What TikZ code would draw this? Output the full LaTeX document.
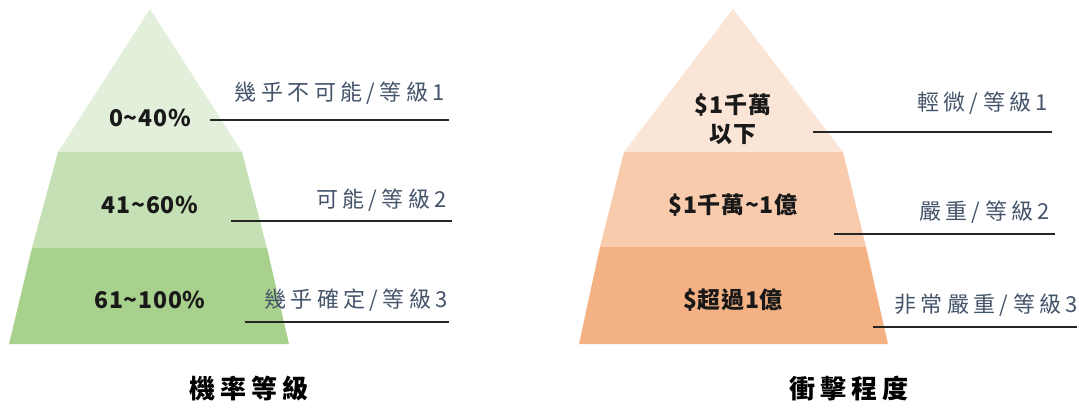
\documentclass[tikz,border=0pt]{standalone}
\usepackage{fontspec}
\usepackage{xcolor}
\newfontfamily\cjk{Noto Sans CJK TC}
\newfontfamily\cjkwide[LetterSpace=20]{Noto Sans CJK TC}
\newfontfamily\cjkval[LetterSpace=3]{Noto Sans CJK TC}
\definecolor{gtop}{HTML}{E2EFDA}
\definecolor{gmid}{HTML}{C5E0B4}
\definecolor{gbot}{HTML}{A9D18E}
\definecolor{otop}{HTML}{FBE5D6}
\definecolor{omid}{HTML}{F8CBAD}
\definecolor{obot}{HTML}{F4B183}
\definecolor{lvlblue}{HTML}{44546A}
\usetikzlibrary{positioning}

\begin{document}
\begin{tikzpicture}[x=1pt,y=-1pt,every node/.style={outer sep=0pt},
		val/.style={font=\cjkval\fontsize{23}{29}\selectfont\bfseries,text=black!90,align=center,inner sep=0pt},
		lvl/.style={font=\cjkwide\fontsize{22}{26}\selectfont,text=lvlblue,anchor=east,inner sep=0pt},
		title/.style={font=\cjkwide\fontsize{26}{30}\selectfont\bfseries,text=black,inner sep=0pt},
		rule/.style={line width=1.3pt,black!85},
		]
		\useasboundingbox (0,0) rectangle (1079,407);

		% probability pyramid
		\fill[gtop] (150,9) -- (242,152) -- (58,152) -- cycle;
		\fill[gmid] (58,152) -- (242,152) -- (267,248) -- (32,248) -- cycle;
		\fill[gbot] (32,248) -- (267,248) -- (289,344) -- (9,344) -- cycle;

		\node[val] (p1) at (150,118) {0\textasciitilde40\%};
		\node[val] (p2) at (150,205) {41\textasciitilde60\%};
		\node[val] (p3) at (150,300) {61\textasciitilde100\%};

		\node[lvl] (pl1) at (445,93) {幾乎不可能/等級1};
		\node[lvl] (pl2) at (447,200) {可能/等級2};
		\node[lvl] (pl3) at (448,300) {幾乎確定/等級3};

		\coordinate (pa1) at (210,120); \coordinate (pb1) at (449,120);
		\coordinate (pa2) at (231,221); \coordinate (pb2) at (452,221);
		\coordinate (pa3) at (245,322); \coordinate (pb3) at (449,322);
		\foreach \i in {1,2,3}
			\draw[rule] (pa\i) -- (pb\i);

		\node[title] (pcap) at (249,389) {機率等級};

		% impact pyramid
		\fill[otop] (733,9) -- (843,152) -- (624,152) -- cycle;
		\fill[omid] (624,152) -- (843,152) -- (866,247) -- (600,247) -- cycle;
		\fill[obot] (600,247) -- (866,247) -- (888,344) -- (579,344) -- cycle;

		\node[val] (i1) at (733,119) {\$1千萬\\以下};
		\node[val] (i2) at (733,205) {\$1千萬\textasciitilde1億};
		\node[val] (i3) at (733,300) {\$超過1億};

		\node[lvl] (il1) at (1048,103) {輕微/等級1};
		\node[lvl] (il2) at (1050,212) {嚴重/等級2};
		\node[lvl] (il3) at (1078,305) {非常嚴重/等級3};

		\coordinate (ia1) at (813,132); \coordinate (ib1) at (1052,132);
		\coordinate (ia2) at (834,234); \coordinate (ib2) at (1055,234);
		\coordinate (ia3) at (873,327); \coordinate (ib3) at (1077,327);
		\foreach \i in {1,2,3}
			\draw[rule] (ia\i) -- (ib\i);

		\node[title] (icap) at (849,389) {衝擊程度};
\end{tikzpicture}
\end{document}
